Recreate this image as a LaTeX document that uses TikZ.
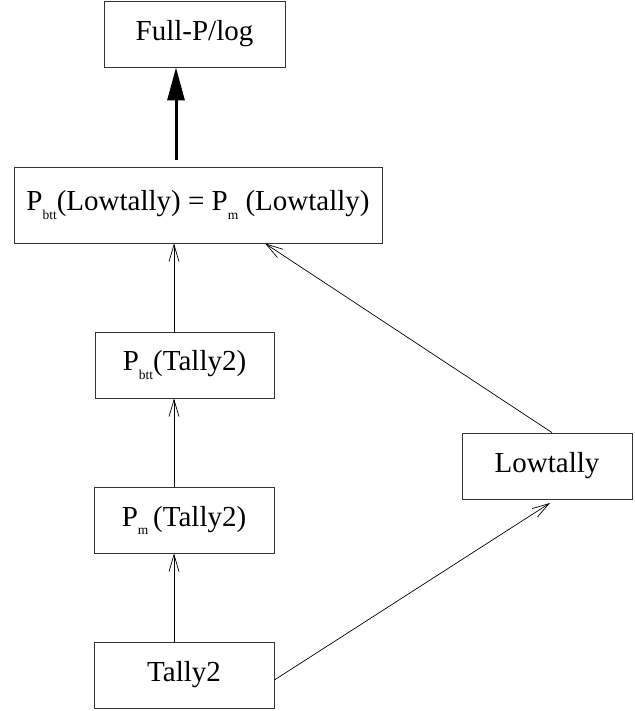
\documentclass[tikz,border=0pt]{standalone}
\usepackage{fontspec}
\setmainfont{Liberation Serif}
\usetikzlibrary{arrows.meta}
\newcommand{\sbs}[1]{\raisebox{-0.28em}{\fontsize{13.5}{13.5}\selectfont #1}}
\begin{document}
\begin{tikzpicture}[x=1pt,y=-1pt,
  box/.style={draw=black!80, line width=0.8pt, rectangle, inner sep=0pt,
    font=\fontsize{29}{31}\selectfont, minimum height=66pt},
  thin/.style={line width=0.7pt, -{Straight Barb[length=17pt,width=10pt,line width=0.7pt]}},
  thick/.style={line width=3pt, -{Triangle[length=33pt,width=17pt]}}]
\useasboundingbox (0,0) rectangle (634,711);
\node[box, minimum width=181pt] (full) at (194.5,34) {Full-P/log};
\node[box, minimum width=368pt, minimum height=76pt] (main) at (198,205)
  {P\sbs{btt}(Lowtally) = P\sbs{m} (Lowtally)};
\node[box, minimum width=179pt] (pbtt) at (184.5,365) {P\sbs{btt}(Tally2)};
\node[box, minimum width=180pt] (pm) at (184,520) {P\sbs{m}\,(Tally2)};
\node[box, minimum width=180pt] (tally) at (184,675) {Tally2};
\node[box, minimum width=170pt] (low) at (547,466) {Lowtally};
\coordinate (xa) at (174,0);
\coordinate (xt) at (176,160);
\coordinate (c1) at (552,0);
\coordinate (c2) at (265,0);
\coordinate (c3) at (550,503);
\coordinate (c4) at (0,680);
\draw[thick] (xt) -- (full.south -| xt);
\draw[thin] (pbtt.north -| xa) -- (main.south -| xa);
\draw[thin] (pm.north -| xa) -- (pbtt.south -| xa);
\draw[thin] (tally.north -| xa) -- (pm.south -| xa);
\draw[thin] (low.north -| c1) -- (main.south -| c2);
\draw[thin] (tally.east |- c4) -- (c3);
\end{tikzpicture}
\end{document}
